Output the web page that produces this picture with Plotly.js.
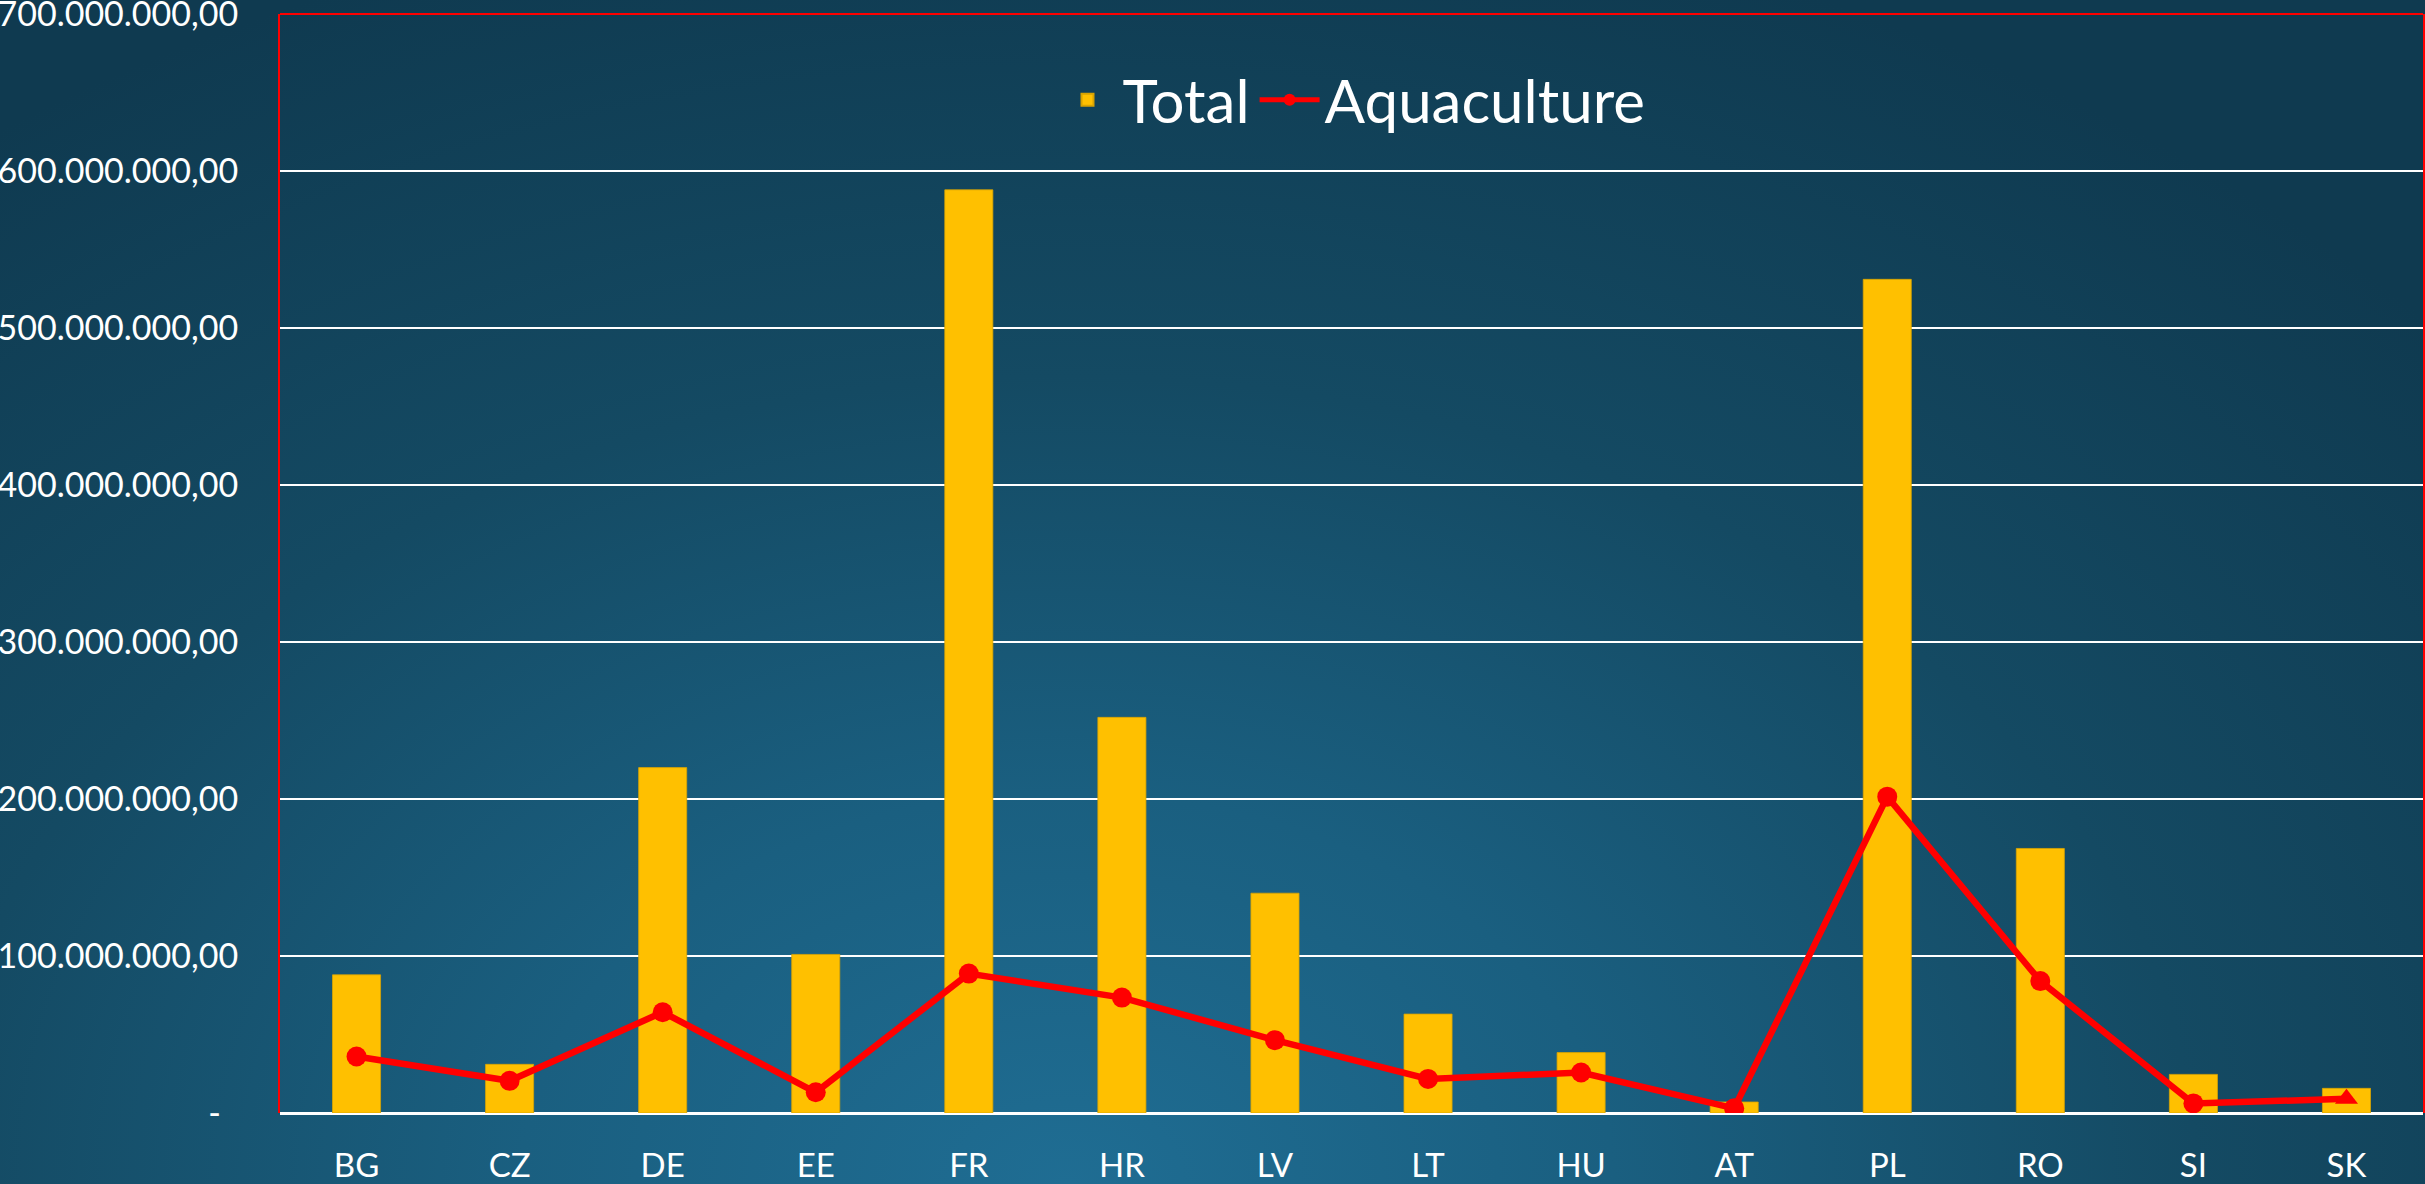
<!DOCTYPE html>
<html>
<head>
<meta charset="utf-8">
<script src="https://cdn.plot.ly/plotly-3.0.1.min.js"></script>
<style>
  html, body { margin: 0; padding: 0; width: 2425px; height: 1184px; overflow: hidden; }
  body {
    background: radial-gradient(ellipse 75% 110% at 44% 100%, #1f6d93 0%, #1a5f80 30%, #144a63 62%, #0f3a50 100%);
  }
  #chart { width: 2425px; height: 1184px; }
</style>
</head>
<body>
<div id="chart"></div>
<script>
const categories = ["BG", "CZ", "DE", "EE", "FR", "HR", "LV", "LT", "HU", "AT", "PL", "RO", "SI", "SK"];
const totalValues = [88e6, 31e6, 220e6, 101e6, 588e6, 252e6, 140e6, 63e6, 38.5e6, 7e6, 531e6, 168.5e6, 24.6e6, 15.7e6];
const aquacultureValues = [36e6, 20.5e6, 64.2e6, 13.2e6, 88.8e6, 73.5e6, 46.4e6, 21.7e6, 25.8e6, 3e6, 201.5e6, 84e6, 6.1e6, 9e6];
const aquacultureSymbols = ["circle", "circle", "circle", "circle", "circle", "circle", "circle", "circle", "circle", "circle", "circle", "circle", "circle", "triangle-up"];
const yTickVals = [0, 100e6, 200e6, 300e6, 400e6, 500e6, 600e6, 700e6];
const yTickText = ["-\u00a0\u00a0", "100.000.000,00", "200.000.000,00", "300.000.000,00", "400.000.000,00", "500.000.000,00", "600.000.000,00", "700.000.000,00"];

const FONT = "Lato, 'Open Sans', sans-serif";

const traces = [
  {
    type: "bar",
    name: "Total",
    x: categories,
    y: totalValues,
    marker: { color: "#FFC000", line: { color: "#d9a300", width: 0.8 } },
    hoverinfo: "x+y"
  },
  {
    type: "scatter",
    mode: "lines+markers",
    name: "Aquaculture",
    x: categories,
    y: aquacultureValues,
    line: { color: "#FF0000", width: 6.5 },
    marker: { color: "#FF0000", size: 20, symbol: aquacultureSymbols },
    hoverinfo: "x+y"
  }
];

const layout = {
  width: 2425,
  height: 1184,
  margin: { l: 280, r: 2, t: 14, b: 71, pad: 0 },
  paper_bgcolor: "rgba(0,0,0,0)",
  plot_bgcolor: "rgba(0,0,0,0)",
  font: { family: FONT, color: "#ffffff", size: 32 },
  bargap: 0.686,
  showlegend: true,
  legend: {
    orientation: "h",
    x: 0.5,
    xanchor: "center",
    y: 0.922,
    yanchor: "middle",
    font: { family: FONT, size: 60, color: "#ffffff" },
    bgcolor: "rgba(0,0,0,0)",
    itemsizing: "constant",
    itemwidth: 60,
    tracegroupgap: 0
  },
  xaxis: {
    type: "category",
    range: [-0.5, 13.5],
    showgrid: false,
    showline: false,
    ticks: "",
    tickfont: { family: FONT, size: 33, color: "#ffffff" },
    ticklabelstandoff: 30,
    fixedrange: true
  },
  yaxis: {
    range: [0, 700e6],
    tickvals: yTickVals,
    ticktext: yTickText,
    showgrid: true,
    gridcolor: "#ffffff",
    gridwidth: 1.6,
    zeroline: true,
    zerolinecolor: "#ffffff",
    zerolinewidth: 3,
    showline: true,
    linecolor: "#FF0000",
    linewidth: 2,
    mirror: true,
    ticks: "",
    tickfont: { family: FONT, size: 34, color: "#ffffff" },
    ticklabelstandoff: 33,
    ticklabeloverflow: "allow",
    fixedrange: true
  },
  shapes: [
    {
      type: "line",
      xref: "paper", yref: "paper",
      x0: 0, x1: 1, y0: 1, y1: 1,
      line: { color: "#FF0000", width: 2 }
    }
  ]
};

Plotly.newPlot("chart", traces, layout, { displayModeBar: false, staticPlot: true });
</script>
</body>
</html>
